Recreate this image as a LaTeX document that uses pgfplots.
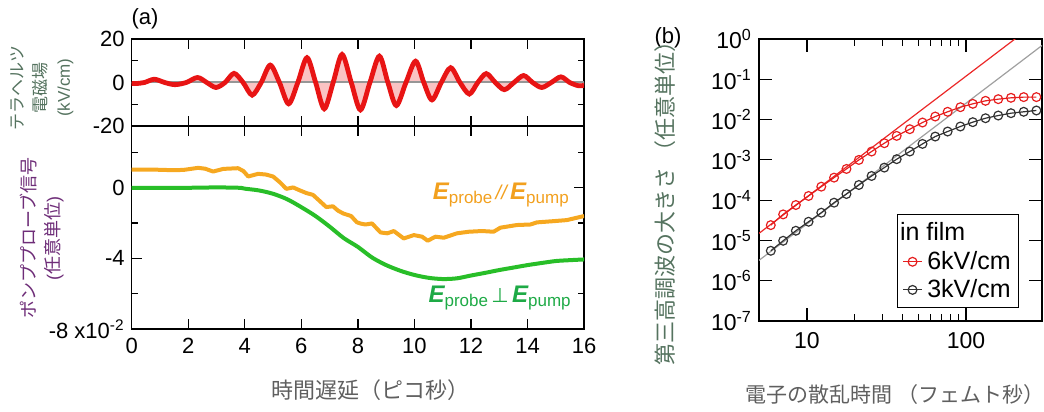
\documentclass[border=0pt]{standalone}
\usepackage{fontspec}
\setmainfont{Liberation Sans}
\newfontfamily\jp{Noto Sans CJK JP}
\newfontfamily\dejavu{DejaVu Sans}
\usepackage{pgfplots}
\pgfplotsset{compat=1.18}
\definecolor{wavered}{RGB}{232,20,20}
\definecolor{wavefill}{RGB}{250,195,195}
\definecolor{zeroline}{RGB}{150,150,150}
\definecolor{orangeL}{RGB}{246,168,32}
\definecolor{greenL}{RGB}{40,190,40}
\definecolor{orangeT}{RGB}{242,160,30}
\definecolor{greenT}{RGB}{30,170,70}
\definecolor{labgreen}{RGB}{85,115,95}
\definecolor{labpurple}{RGB}{110,45,120}
\definecolor{labgray}{RGB}{95,95,95}
\definecolor{fitred}{RGB}{235,40,40}
\definecolor{fitgray}{RGB}{160,160,160}
\definecolor{mkred}{RGB}{230,30,30}
\definecolor{mkblack}{RGB}{50,50,50}
\begin{document}
\begin{tikzpicture}
\useasboundingbox (0pt,0pt) rectangle (522pt,206pt);
\node[font=\fontsize{11}{13}\selectfont] at (72.5pt,196.5pt) {(a)};
\node[font=\fontsize{11}{13}\selectfont] at (334pt,187pt) {(b)};
% ---------------- top panel ----------------
\begin{axis}[at={(65.85pt,143pt)}, anchor=south west, scale only axis,
  width=226.2pt, height=43.5pt,
  xmin=0, xmax=16, ymin=-20, ymax=20,
  xtick={0,2,...,16}, xticklabels={,,,,,,,,},
  ytick={-20,0,20}, yticklabels={-20,0,20}, minor ytick={-10,10},
  major tick length=5pt, minor tick length=3pt,
  tick style={black, line width=0.6pt},
  axis line style={line width=0.8pt},
  yticklabel style={font=\fontsize{11}{13}\selectfont},
  ylabel={\jp テラヘルツ\\\jp 電磁場\\(kV/cm)},
  ylabel style={at={(axis description cs:-0.198,0.44)}, anchor=center, align=center,
    font=\fontsize{8.5}{11.5}\selectfont, text=labgreen},
  ]
\addplot[draw=none, fill=wavefill, smooth] coordinates {
(0,-0.45) (0.15,-0.5) (0.45,0) (0.80,1.5) (1.165,0) (1.53,-1.0) (1.93,0) (2.33,2.3)
(2.655,0) (2.98,-2.3) (3.30,0) (3.62,4.2) (3.94,0) (4.26,-5.8) (4.58,0) (4.90,8.0)
(5.225,0) (5.55,-9.8) (5.875,0) (6.20,11.4) (6.505,0) (6.81,-12.1) (7.125,0) (7.44,12.9)
(7.765,0) (8.09,-12.6) (8.425,0) (8.76,12.1) (9.06,0) (9.36,-10.6) (9.70,0) (10.04,9.8)
(10.33,0) (10.62,-8.0) (10.95,0) (11.28,6.8) (11.61,0) (11.94,-5.3) (12.24,0) (12.54,4.1)
(12.86,0) (13.18,-3.3) (13.52,0) (13.86,3.2) (14.18,0) (14.50,-2.3) (14.84,0) (15.18,2.6)
(15.49,0) (15.80,-1.5) (16,-1.3)} \closedcycle;
\addplot[zeroline, line width=1pt] coordinates {(0,0) (16,0)};
\addplot[wavered, line width=2.4pt, smooth] coordinates {
(0,-0.45) (0.15,-0.5) (0.45,0) (0.80,1.5) (1.165,0) (1.53,-1.0) (1.93,0) (2.33,2.3)
(2.655,0) (2.98,-2.3) (3.30,0) (3.62,4.2) (3.94,0) (4.26,-5.8) (4.58,0) (4.90,8.0)
(5.225,0) (5.55,-9.8) (5.875,0) (6.20,11.4) (6.505,0) (6.81,-12.1) (7.125,0) (7.44,12.9)
(7.765,0) (8.09,-12.6) (8.425,0) (8.76,12.1) (9.06,0) (9.36,-10.6) (9.70,0) (10.04,9.8)
(10.33,0) (10.62,-8.0) (10.95,0) (11.28,6.8) (11.61,0) (11.94,-5.3) (12.24,0) (12.54,4.1)
(12.86,0) (13.18,-3.3) (13.52,0) (13.86,3.2) (14.18,0) (14.50,-2.3) (14.84,0) (15.18,2.6)
(15.49,0) (15.80,-1.5) (16,-1.3)};
\end{axis}
% ---------------- bottom panel ----------------
\begin{axis}[at={(65.85pt,41.5pt)}, anchor=south west, scale only axis,
  width=226.2pt, height=101.5pt,
  xmin=0, xmax=16, ymin=-0.08, ymax=0.035,
  xtick={0,2,...,16}, xticklabels={0,2,4,6,8,10,12,14,16},
  ytick={-0.08,-0.04,0}, yticklabels={{-8 x10\textsuperscript{-2}},{-4},{0}},
  minor ytick={-0.06,-0.02,0.02},
  scaled y ticks=false,
  major tick length=5pt, minor tick length=3pt,
  tick style={black, line width=0.6pt},
  axis line style={line width=0.8pt},
  tick label style={font=\fontsize{11}{13}\selectfont},
  xticklabel style={yshift=-1pt},
  ylabel={\jp ポンププローブ信号\\(\jp 任意単位\rmfamily)},
  ylabel style={at={(axis description cs:-0.198,0.448)}, anchor=center, align=center,
    font=\fontsize{9}{12}\selectfont, text=labpurple},
  xlabel={\jp 時間遅延（ピコ秒）},
  xlabel style={at={(axis description cs:0.527,-0.30)}, anchor=center,
    font=\fontsize{11}{13}\selectfont, text=labgray},
  ]
\addplot[orangeL, line width=2pt, line join=round] coordinates {
(0,0.0103) (0.76,0.0103) (1.4,0.0100) (1.82,0.0101) (2.35,0.0113) (2.6,0.0108)
(2.88,0.0092) (3.24,0.0107) (3.76,0.0111) (3.95,0.0095) (4.12,0.0064) (4.47,0.0079)
(4.75,0.0075) (5.0,0.0064) (5.25,0.0030) (5.47,-0.0006) (5.71,0.0002) (5.95,-0.0015)
(6.18,-0.003) (6.41,-0.004) (6.65,-0.0075) (6.88,-0.0109) (7.12,-0.0105) (7.3,-0.0130)
(7.49,-0.0146) (7.76,-0.0160) (7.96,-0.0195) (8.1,-0.0203) (8.27,-0.0208) (8.5,-0.0202)
(8.8,-0.0253) (9.04,-0.0258) (9.27,-0.0245) (9.62,-0.0287) (9.98,-0.0268) (10.27,-0.0277)
(10.47,-0.0300) (10.74,-0.0277) (11.04,-0.0283) (11.5,-0.0258) (11.92,-0.0249)
(12.39,-0.0245) (12.8,-0.0249) (13.04,-0.0226) (13.62,-0.0211) (14.1,-0.0208)
(14.33,-0.0196) (14.92,-0.0189) (15.39,-0.0183) (16.0,-0.0160)};
\addplot[greenL, line width=2pt, smooth] coordinates {
(0,0) (1,0) (2,0) (3,0.0002) (3.8,0) (4,-0.0005) (4.5,-0.0015) (5,-0.0034)
(5.5,-0.0065) (6,-0.011) (6.5,-0.016) (7,-0.022) (7.5,-0.0285) (8,-0.0335)
(8.5,-0.0395) (9,-0.0438) (9.5,-0.047) (10,-0.0494) (10.5,-0.0510) (11,-0.0517)
(11.5,-0.0513) (12,-0.0497) (12.5,-0.0482) (13,-0.0466) (13.5,-0.0452) (14,-0.0438)
(14.5,-0.0426) (15,-0.0415) (15.5,-0.0410) (16,-0.0406)};
\node[anchor=east, text=orangeT, inner sep=0pt] at (axis cs:15.47,-0.0043)
  {{\fontsize{12}{13}\selectfont\bfseries\itshape E}\raisebox{-2pt}{\fontsize{8.5}{10}\selectfont probe}\,{\fontsize{10}{12}\selectfont\itshape //}\,{\fontsize{12}{13}\selectfont\bfseries\itshape E}\raisebox{-2pt}{\fontsize{8.5}{10}\selectfont pump}};
\node[anchor=east, text=greenT, inner sep=0pt] at (axis cs:15.54,-0.0624)
  {{\fontsize{12}{13}\selectfont\bfseries\itshape E}\raisebox{-2pt}{\fontsize{8.5}{10}\selectfont probe}\,{\fontsize{10}{12}\selectfont\dejavu ⊥}\,{\fontsize{12}{13}\selectfont\bfseries\itshape E}\raisebox{-2pt}{\fontsize{8.5}{10}\selectfont pump}};
\end{axis}
% ---------------- right panel ----------------
\begin{axis}[at={(379.5pt,45.5pt)}, anchor=south west, scale only axis,
  width=141.5pt, height=141pt,
  xmode=log, ymode=log,
  xmin=5, xmax=300, ymin=1e-7, ymax=1,
  xtick={10,100}, xticklabels={10,100},
  ytick={1e-7,1e-6,1e-5,1e-4,1e-3,1e-2,1e-1,1},
  yticklabels={10\textsuperscript{-7},10\textsuperscript{-6},10\textsuperscript{-5},10\textsuperscript{-4},10\textsuperscript{-3},10\textsuperscript{-2},10\textsuperscript{-1},10\textsuperscript{0}},
  yminorticks=false,
  major tick length=6.5pt, minor tick length=3.5pt,
  tick style={black, line width=0.6pt},
  axis line style={line width=0.8pt},
  tick label style={font=\fontsize{11.5}{13}\selectfont},
  xticklabel style={yshift=-2pt},
  ylabel={\jp 第三高調波の大きさ （任意単位）},
  ylabel style={at={(axis description cs:-0.332,0.436)}, anchor=center,
    font=\fontsize{11}{12}\selectfont, text=labgreen},
  xlabel={\jp 電子の散乱時間 （フェムト秒）},
  xlabel style={at={(axis description cs:0.48,-0.26)}, anchor=center,
    font=\fontsize{10.5}{12}\selectfont, text=labgray},
  legend image code/.code={\draw[mark repeat=2,mark phase=2,#1] plot coordinates {(0.05cm,0cm) (0.21cm,0cm) (0.37cm,0cm)};},
  legend style={at={(0.4876,0.3794)}, anchor=north west, draw=black, line width=0.6pt,
    font=\fontsize{12.5}{14}\selectfont, inner sep=1.5pt, row sep=-0.5pt, fill=white,
    nodes={inner xsep=2.5pt}},
  legend cell align=left,
  ]
\addplot[fitred, line width=0.6pt, forget plot] coordinates {(5,1.5e-5) (210,1.11)};
\addplot[fitgray, line width=0.6pt, forget plot] coordinates {(5,3.2e-6) (300,0.69)};
\addlegendimage{legend image code/.code={\node[overlay, anchor=west, inner sep=0pt, font=\fontsize{12.5}{14}\selectfont] at (-0.02cm,0cm) {in film};}}
\addlegendentry{\strut}
\addplot[mkred, line width=0.6pt, mark=o, mark size=2.2pt, mark options={line width=0.6pt}] coordinates {
(5.93,2.40e-5) (7.09,4.43e-5) (8.52,7.57e-5) (10.24,1.27e-4) (12.31,2.16e-4) (14.81,3.62e-4)
(17.72,5.95e-4) (21.21,9.96e-4) (25.49,1.61e-3) (30.64,2.59e-3) (36.66,3.94e-3) (44.30,5.77e-3)
(53.24,8.45e-3) (64.01,1.19e-2) (76.60,1.56e-2) (92.09,2.03e-2) (110.2,2.46e-2) (132.5,2.92e-2)
(159.3,3.21e-2) (191.5,3.47e-2) (230.2,3.61e-2) (276.7,3.61e-2)};
\addlegendentry{6kV/cm}
\addplot[mkblack, line width=0.6pt, mark=o, mark size=2.2pt, mark options={line width=0.6pt}] coordinates {
(5.93,5.53e-6) (7.09,9.81e-6) (8.52,1.74e-5) (10.24,2.91e-5) (12.31,4.88e-5) (14.81,8.65e-5)
(17.72,1.42e-4) (21.21,2.38e-4) (25.49,3.98e-4) (30.64,6.42e-4) (36.66,1.04e-3) (44.30,1.61e-3)
(53.24,2.49e-3) (64.01,3.79e-3) (76.60,5.05e-3) (92.09,6.73e-3) (110.2,8.62e-3) (132.5,1.08e-2)
(159.3,1.26e-2) (191.5,1.44e-2) (230.2,1.56e-2) (276.7,1.68e-2)};
\addlegendentry{3kV/cm}
\end{axis}
\end{tikzpicture}
\end{document}
